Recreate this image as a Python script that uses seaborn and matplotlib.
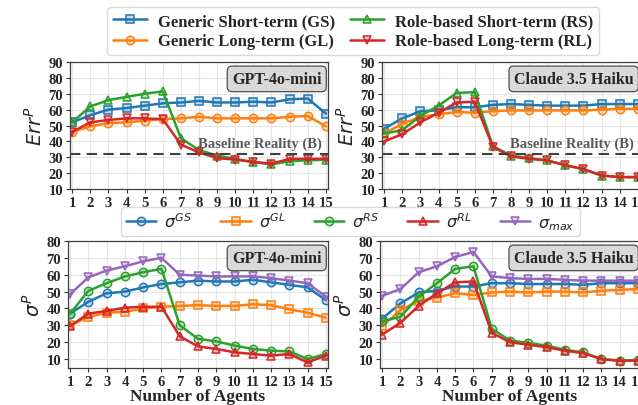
import numpy as np
import pandas as pd
import matplotlib
matplotlib.use("Agg")
import matplotlib.pyplot as plt
import seaborn as sns

agents = list(range(1, 16))

# Top row: Err^P
gpt_gs = [52, 56.5, 60, 61, 62.5, 64, 64.5, 65.5, 64.5, 64.5, 65, 64.5, 66.5, 67, 57.5]
gpt_gl = [46, 49.5, 51.5, 52, 53, 54, 54.5, 55.5, 54.5, 54.5, 54.5, 54.5, 55.5, 56, 49.5]
gpt_rs = [52, 62, 66, 68, 70, 71.5, 42, 34.5, 31, 29, 27, 25.5, 27.5, 28, 28.5]
gpt_rl = [46, 52, 53.5, 54.5, 54.5, 54, 38, 33, 29.5, 28.5, 27, 26, 29, 29, 29]

cl_gs = [48, 54.5, 59, 59.5, 61.5, 61.5, 63, 63.5, 63, 62.5, 62.5, 62.5, 63.5, 63.5, 63.5]
cl_gl = [45, 51, 55.5, 57, 58.5, 58, 59, 59.5, 59.5, 59.5, 59.5, 59.5, 60, 60.5, 60.5]
cl_rs = [45, 47, 56, 62.5, 70.5, 71, 37, 31, 29.5, 28, 25, 22.5, 18.5, 17.5, 17.5]
cl_rl = [40, 44.5, 52, 58, 64.5, 65, 36.5, 30.5, 29, 28, 25, 22.5, 18.5, 17.5, 17.5]

baseline = 32

# Bottom row: sigma^P
gpt_sgs = [37, 44, 49, 50, 52.5, 54.5, 55.5, 56.5, 56, 56, 57, 55.5, 54, 52.5, 45]
gpt_sgl = [30, 35, 37.5, 38, 40, 41, 41.5, 42, 41.5, 41.5, 42.5, 42, 39.5, 37.5, 34.5]
gpt_srs = [37, 50.5, 55, 59, 61.5, 63.5, 30, 22, 20.5, 18, 16, 15, 14.5, 10, 13]
gpt_srl = [29.5, 37, 38.5, 40.5, 41, 41, 23.5, 17.5, 16, 14, 13, 12, 13, 8, 12]
gpt_smax = [48.5, 58.5, 62.5, 65, 68, 70, 60, 59.5, 59, 59, 59, 58, 56.5, 55, 47]

cl_sgs = [34, 43, 49.5, 50.5, 53, 53, 55, 55, 54.5, 54.5, 54.5, 54, 55, 55, 55]
cl_sgl = [29.5, 39, 44.5, 46.5, 49, 48, 49.5, 50, 49.5, 50, 50, 49.5, 50.5, 51, 51.5]
cl_srs = [32.5, 35, 47, 55, 63.5, 65, 28, 21, 19.5, 18, 15.5, 14, 10, 9, 9.5]
cl_srl = [24.5, 31.5, 41.5, 49, 55.5, 56, 25.5, 20, 18.5, 17, 15, 13.5, 10, 9, 9]
cl_smax = [47.5, 51.5, 61.5, 65, 70.5, 73.5, 59, 58, 57.5, 57.5, 57, 56.5, 56.5, 56.5, 56.5]

top_labels = ["Generic Short-term (GS)", "Generic Long-term (GL)",
              "Role-based Short-term (RS)", "Role-based Long-term (RL)"]
bot_labels = [r"$\sigma^{GS}$", r"$\sigma^{GL}$", r"$\sigma^{RS}$", r"$\sigma^{RL}$", r"$\sigma_{max}$"]
titles = ["GPT-4o-mini", "Claude 3.5 Haiku"]

sns.set_style("whitegrid")
plt.rcParams['font.family'] = ['Liberation Serif', 'DejaVu Serif']
plt.rcParams['mathtext.fontset'] = 'dejavusans'

pal = sns.color_palette("tab10")
blue, orange, green, red, purple = pal[0], pal[1], pal[2], pal[3], pal[4]

fig = plt.figure(figsize=(6.38, 4.06), dpi=100)
W, H = 638, 406
def ax_at(l, t, r, b):
    return fig.add_axes([l / W, 1 - b / H, (r - l) / W, (b - t) / H])

ax_tl = ax_at(70, 63, 328, 190)
ax_tr = ax_at(382, 63, 640, 190)
ax_bl = ax_at(68, 242, 328, 369)
ax_br = ax_at(380, 242, 640, 369)

def light(c):
    return (c[0], c[1], c[2], 0.25)

def draw(ax, series, labels, colors, markers):
    for ys, lab, c, m in zip(series, labels, colors, markers):
        sns.lineplot(x=agents, y=ys, ax=ax, color=c, marker=m, markersize=6,
                     markerfacecolor=light(c), markeredgecolor=c, markeredgewidth=1.1,
                     linewidth=1.8, label=lab, legend=False)

def style(ax, ylim, yticks, title):
    ax.set_xlim(0.88, 15.12)
    ax.set_ylim(*ylim)
    ax.set_xticks(agents)
    ax.set_yticks(yticks)
    ax.tick_params(axis='both', labelsize=10.5, length=3, width=0.8, pad=2,
                   color='0.2', bottom=True, left=True)
    for lab in ax.get_xticklabels() + ax.get_yticklabels():
        lab.set_fontweight('bold')
    ax.grid(True, color='0.9', linewidth=0.8)
    for s in ax.spines.values():
        s.set_color('0.25')
        s.set_linewidth(0.9)
    ax.text(0.975, 0.93, title, transform=ax.transAxes, ha='right', va='top',
            fontsize=11.5, fontweight='bold',
            bbox=dict(boxstyle='round,pad=0.3', facecolor='0.85', edgecolor='0.3', linewidth=0.9))

top_colors = [blue, orange, green, red]
top_markers = ['s', 'o', '^', 'v']
for ax, ser, t in [(ax_tl, [gpt_gs, gpt_gl, gpt_rs, gpt_rl], titles[0]),
                   (ax_tr, [cl_gs, cl_gl, cl_rs, cl_rl], titles[1])]:
    draw(ax, ser, top_labels, top_colors, top_markers)
    ax.axhline(baseline, color='0.25', linestyle='--', linewidth=1.5, dashes=(5, 3))
    ax.text(0.975, (baseline + 2.5 - 10) / 80, "Baseline Reality (B)", transform=ax.transAxes,
            ha='right', va='bottom', fontsize=10.5, fontweight='bold', color='0.35')
    style(ax, (10, 90), range(10, 91, 10), t)
    ax.set_ylabel(r"$Err^P$", fontsize=14, labelpad=2)
    ax.set_xlabel("")

bot_colors = [blue, orange, green, red, purple]
bot_markers = ['o', 's', 'o', '^', 'v']
for ax, ser, t in [(ax_bl, [gpt_sgs, gpt_sgl, gpt_srs, gpt_srl, gpt_smax], titles[0]),
                   (ax_br, [cl_sgs, cl_sgl, cl_srs, cl_srl, cl_smax], titles[1])]:
    draw(ax, ser, bot_labels, bot_colors, bot_markers)
    style(ax, (4.7, 80), range(10, 81, 10), t)
    ax.set_ylabel(r"$\sigma^P$", fontsize=14, labelpad=2)
    ax.set_xlabel("Number of Agents", fontsize=12.5, fontweight='bold', labelpad=0)

h, l = ax_tl.get_legend_handles_labels()
fig.legend(h, l, loc='upper center', bbox_to_anchor=(0.554, 1.0), ncol=2,
           frameon=True, framealpha=1, edgecolor='0.85',
           handlelength=2.0, columnspacing=0.9, handletextpad=0.7,
           borderpad=0.35, labelspacing=0.25, prop={'weight': 'bold', 'size': 12})

h, l = ax_bl.get_legend_handles_labels()
fig.legend(h, l, loc='center', bbox_to_anchor=(0.549, 0.451), ncol=5,
           frameon=True, framealpha=1, edgecolor='0.85',
           handlelength=1.9, columnspacing=1.75, handletextpad=0.5,
           borderpad=0.3, prop={'size': 11.5})

fig.savefig("out.png", dpi=100)
